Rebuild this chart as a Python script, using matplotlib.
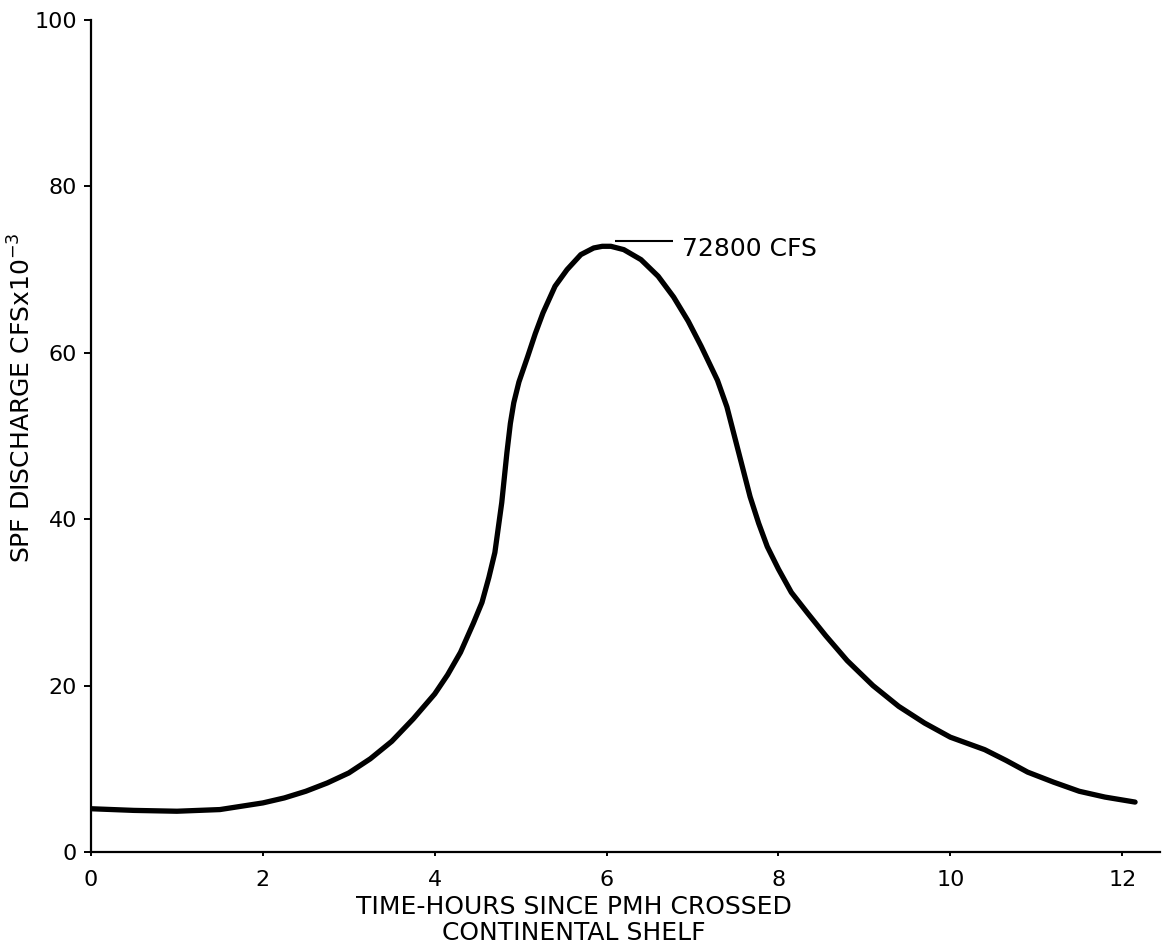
import matplotlib
matplotlib.use("Agg")
import matplotlib.pyplot as plt

plt.rcParams['font.family'] = ['DejaVu Sans']
plt.rcParams['mathtext.default'] = 'regular'

# Data (hours, discharge in 1000 cfs)
hours = [0, 0.5, 1.0, 1.5, 2.0, 2.25, 2.5, 2.75, 3.0, 3.25, 3.5, 3.75,
         4.0, 4.15, 4.3, 4.45, 4.55, 4.63, 4.7, 4.74, 4.78, 4.81, 4.84, 4.88,
         4.92, 4.98, 5.08, 5.17, 5.26, 5.4, 5.54, 5.7, 5.85, 5.95, 6.05, 6.2,
         6.4, 6.6, 6.78, 6.95, 7.1, 7.29, 7.4, 7.52, 7.6, 7.67, 7.77, 7.87,
         8.0, 8.15, 8.34, 8.55, 8.8, 9.1, 9.4, 9.7, 10.0, 10.4, 10.65, 10.9,
         11.2, 11.5, 11.8, 12.15]
discharge = [5.2, 5.0, 4.9, 5.1, 5.9, 6.5, 7.3, 8.3, 9.5, 11.2, 13.3, 16.0,
             19.0, 21.3, 24.0, 27.5, 30.0, 33.0, 36.0, 39.0, 42.0, 45.0, 48.0, 51.5,
             54.0, 56.5, 59.5, 62.3, 64.8, 68.0, 70.0, 71.8, 72.6, 72.8, 72.8, 72.4,
             71.2, 69.2, 66.7, 63.8, 60.8, 56.7, 53.5, 48.7, 45.5, 42.7, 39.5, 36.7,
             34.0, 31.2, 28.7, 26.0, 23.0, 20.0, 17.5, 15.5, 13.8, 12.3, 11.0, 9.6,
             8.4, 7.3, 6.6, 6.0]
peak_label = "72800 CFS"
leader_x = [6.1, 6.77]
leader_y = 73.4
label_pos = (6.88, 72.5)

xticks = [0, 2, 4, 6, 8, 10, 12]
yticks = [0, 20, 40, 60, 80, 100]

fig = plt.figure(figsize=(11.62, 9.51), dpi=100)
ax = fig.add_axes([91 / 1162, 1 - 852 / 951, (1160 - 91) / 1162, (852 - 20) / 951])

ax.plot(hours, discharge, color='black', lw=3.8, solid_capstyle='round',
        solid_joinstyle='round')

ax.hlines(leader_y, leader_x[0], leader_x[1], color='black', lw=1.5)
ax.text(label_pos[0], label_pos[1], peak_label, fontsize=18, va='center',
        ha='left')

ax.set_xlim(0, 12.44)
ax.set_ylim(0, 100)
ax.set_xticks(xticks)
ax.set_yticks(yticks)
ax.set_xticklabels([str(t) for t in xticks])
ax.set_yticklabels([str(t) for t in yticks])

for s in ['top', 'right']:
    ax.spines[s].set_visible(False)
for s in ['left', 'bottom']:
    ax.spines[s].set_linewidth(1.6)

ax.tick_params(axis='y', direction='out', length=5, width=1.4, pad=5,
               labelsize=16)
ax.tick_params(axis='x', direction='out', length=3, width=1.4, pad=10,
               labelsize=16)

fig.text(574 / 1162, 1 - 920 / 951,
         "TIME-HOURS SINCE PMH CROSSED\nCONTINENTAL SHELF",
         ha='center', va='center', fontsize=18, linespacing=1.15)

fig.text(22 / 1162, 1 - 398 / 951, "SPF DISCHARGE CFSx10$^{-3}$",
         rotation=90, ha='center', va='center', fontsize=18)

fig.savefig("out.png", dpi=100)
